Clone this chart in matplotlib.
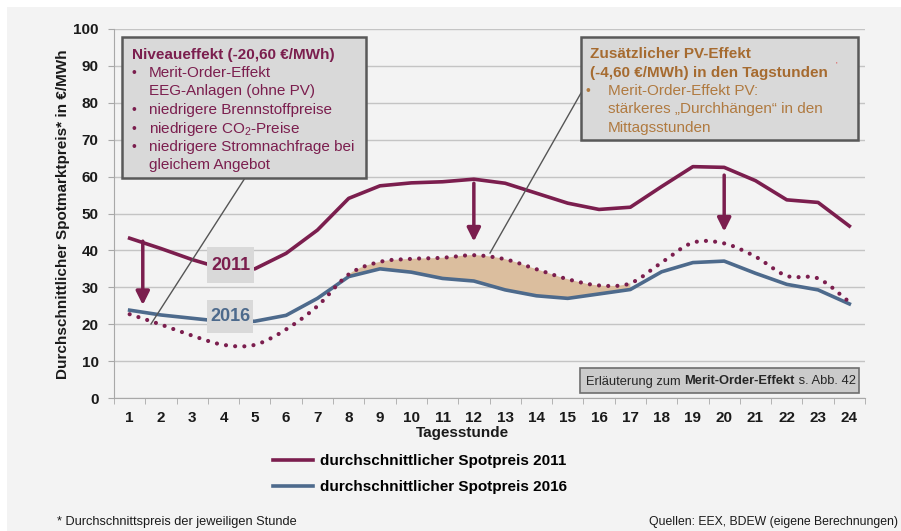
import numpy as np
import matplotlib
matplotlib.use("Agg")
from matplotlib import pyplot as plt
from matplotlib.path import Path
from matplotlib.patches import PathPatch, Rectangle
from matplotlib.lines import Line2D

plt.rcParams['font.family'] = ['Liberation Sans', 'DejaVu Sans']
plt.rcParams['mathtext.default'] = 'regular'

# stündliche Durchschnittspreise in €/MWh
hours = list(range(1, 25))
price_2011 = [43.3, 40.5, 37.5, 35.0, 35.0, 39.2, 45.5, 54.1, 57.5, 58.3, 58.6, 59.3,
              58.2, 55.5, 52.8, 51.1, 51.7, 57.3, 62.7, 62.5, 58.9, 53.7, 53.0, 46.6]
price_2016 = [23.8, 22.5, 21.6, 20.7, 20.8, 22.4, 27.0, 32.9, 35.0, 34.1, 32.4, 31.7,
              29.3, 27.7, 27.0, 28.2, 29.4, 34.2, 36.7, 37.1, 33.8, 30.8, 29.3, 25.5]
# 2011 abzgl. Niveaueffekt (gepunktete Linie)
price_2011_shifted = [22.7, 19.9, 16.9, 14.4, 14.4, 18.6, 24.9, 33.5, 36.9, 37.7, 38.0, 38.7,
                      37.6, 34.9, 32.2, 30.5, 31.1, 36.7, 42.1, 41.9, 38.3, 33.1, 32.4, 26.0]
pv_span = (8, 17)  # Stunden mit PV-Effekt (Fläche)

legend_labels = ['durchschnittlicher Spotpreis 2011', 'durchschnittlicher Spotpreis 2016']

# Pfeile: Stunde, Start, Spitze
arrow_x = [1.42, 12, 20]
arrow_top = [42.5, 58.2, 60.4]
arrow_tip = [25.2, 42.4, 45.1]

PURPLE = '#7B1E4E'
BLUE = '#4D6A8C'
BROWN = '#A66B30'
BROWN_LIGHT = '#B07A40'
TAN = '#DBBE9E'
GRID = '#C4C4C4'
FS = 11

W, H = 901, 531


def px(x, y):
    return x / W, 1 - y / H


def bezier_path(xs, ys, i0=0, i1=None):
    # Catmull-Rom Glättung wie in Excel, als Bezier-Segmente
    p = np.column_stack([xs, ys]).astype(float)
    n = len(p)
    if i1 is None:
        i1 = n - 1
    verts = [p[i0]]
    codes = [Path.MOVETO]
    for i in range(i0, i1):
        p0 = p[max(i - 1, 0)]
        p1 = p[i]
        p2 = p[i + 1]
        p3 = p[min(i + 2, n - 1)]
        verts += [p1 + (p2 - p0) / 6, p2 - (p3 - p1) / 6, p2]
        codes += [Path.CURVE4] * 3
    return verts, codes


fig = plt.figure(figsize=(W / 100, H / 100), dpi=100, facecolor='white')
fig.add_artist(Rectangle(px(7, 531), (W - 7) / W, (H - 7) / H, transform=fig.transFigure,
                         facecolor='#F3F3F3', edgecolor='none', zorder=-5))

x0, y0 = px(114, 398)
x1, y1 = px(865, 29)
ax = fig.add_axes([x0, y0, x1 - x0, y1 - y0])
ax.set_facecolor('none')

ax.set_xlim(0.5, 24.5)
ax.set_ylim(0, 100)
ax.set_yticks(range(0, 101, 10))
ax.set_xticks(hours)
ax.set_xticks(np.arange(0.5, 25, 1), minor=True)
ax.tick_params(axis='x', which='major', length=0, pad=9)
ax.tick_params(axis='x', which='minor', length=4, color='#A8A8A8', direction='out')
ax.tick_params(axis='y', length=4, color='#A8A8A8', pad=7)
for lab in ax.get_xticklabels() + ax.get_yticklabels():
    lab.set_fontweight('bold')
    lab.set_fontsize(FS)
    lab.set_color('#1A1A1A')
for s in ['top', 'right']:
    ax.spines[s].set_visible(False)
for s in ['left', 'bottom']:
    ax.spines[s].set_color('#A8A8A8')
ax.yaxis.grid(True, color=GRID, lw=1)
ax.set_axisbelow(True)

# Fläche PV-Effekt
a, b = pv_span[0] - 1, pv_span[1] - 1
v, c = bezier_path(hours, price_2011_shifted, a, b)
v += [(hours[i], price_2016[i]) for i in range(b, a - 1, -1)]
c += [Path.LINETO] * (b - a + 1)
v.append(v[0])
c.append(Path.CLOSEPOLY)
ax.add_patch(PathPatch(Path(v, c), facecolor=TAN, edgecolor='none', zorder=1))

l11, = ax.plot(hours, price_2011, color=PURPLE, lw=2.6, zorder=3, solid_joinstyle='round')
l16, = ax.plot(hours, price_2016, color=BLUE, lw=2.6, zorder=3, solid_joinstyle='round')

v, c = bezier_path(hours, price_2011_shifted)
dots = PathPatch(Path(v, c), fill=False, edgecolor=PURPLE, lw=3,
                 linestyle=(0, (0.01, 2.2)), zorder=4)
dots.set_capstyle('round')
ax.add_patch(dots)

for xa, ya, yb in zip(arrow_x, arrow_top, arrow_tip):
    ax.annotate('', xy=(xa, yb), xytext=(xa, ya),
                arrowprops=dict(arrowstyle='-|>', color=PURPLE, lw=2.5,
                                mutation_scale=20, shrinkA=0, shrinkB=0), zorder=5)

# Jahreslabels
for (bx, by, bw, bh), txt, col in [((207, 247, 47, 36), '2011', PURPLE),
                                   ((207, 300, 46, 33), '2016', BLUE)]:
    fig.add_artist(Rectangle(px(bx, by + bh), bw / W, bh / H, transform=fig.transFigure,
                             facecolor='#D9D9D9', edgecolor='none', zorder=2))
    fig.text(*px(bx + bw / 2, by + bh / 2), txt, ha='center', va='center',
             fontsize=13, fontweight='bold', color=col, zorder=3)

# Verbindungslinien
for (xa, ya), (xb, yb) in [((245, 178), (151, 324)), ((581, 93), (490, 253))]:
    fig.add_artist(Line2D([xa / W, xb / W], [1 - ya / H, 1 - yb / H], transform=fig.transFigure,
                          color='#555555', lw=1, zorder=2))

# Textbox Niveaueffekt
fig.add_artist(Rectangle(px(122, 178), 244 / W, 141 / H, transform=fig.transFigure,
                         facecolor='#D9D9D9', edgecolor='#595959', lw=1.8, zorder=3))
box1 = [(True, False, 'Niveaueffekt (-20,60 €/MWh)'),
        (False, True, 'Merit-Order-Effekt'),
        (False, False, 'EEG-Anlagen (ohne PV)'),
        (False, True, 'niedrigere Brennstoffpreise'),
        (False, True, 'niedrigere CO$_2$-Preise'),
        (False, True, 'niedrigere Stromnachfrage bei'),
        (False, False, 'gleichem Angebot')]
for i, (bold, bullet, txt) in enumerate(box1):
    yb = 58.5 + i * 18.5
    if bold:
        fig.text(*px(131.5, yb), txt, fontsize=FS, fontweight='bold', color=PURPLE,
                 va='baseline', zorder=4)
    else:
        if bullet:
            fig.text(*px(132, yb), '•', fontsize=10, color=PURPLE, va='baseline', zorder=4)
        fig.text(*px(149, yb), txt, fontsize=FS, color=PURPLE, va='baseline', zorder=4)

# Textbox PV-Effekt
fig.add_artist(Rectangle(px(581, 140), 277 / W, 103 / H, transform=fig.transFigure,
                         facecolor='#D9D9D9', edgecolor='#595959', lw=1.8, zorder=3))
box2 = [(True, False, 'Zusätzlicher PV-Effekt'),
        (True, False, '(-4,60 €/MWh) in den Tagstunden'),
        (False, True, 'Merit-Order-Effekt PV:'),
        (False, False, 'stärkeres „Durchhängen“ in den'),
        (False, False, 'Mittagsstunden')]
for i, (bold, bullet, txt) in enumerate(box2):
    yb = 58.5 + i * 18.3
    if bold:
        fig.text(*px(590, yb), txt, fontsize=FS, fontweight='bold', color=BROWN,
                 va='baseline', zorder=4)
    else:
        if bullet:
            fig.text(*px(586, yb), '•', fontsize=10, color=BROWN_LIGHT, va='baseline', zorder=4)
        fig.text(*px(608, yb), txt, fontsize=FS, color=BROWN_LIGHT, va='baseline', zorder=4)
fig.text(*px(835, 66), "'", fontsize=6, color='#E03030', zorder=4)

# Hinweisbox Merit-Order
fig.add_artist(Rectangle(px(580, 393), 279 / W, 25 / H, transform=fig.transFigure,
                         facecolor='#CBCBCB', edgecolor='#6E6E6E', lw=1.2, zorder=3))
renderer = fig.canvas.get_renderer()
xc = 586
for txt, wgt in [('Erläuterung zum ', 'normal'), ('Merit-Order-Effekt', 'bold'),
                 (' s. Abb. 42', 'normal')]:
    t = fig.text(*px(xc, 384.5), txt, fontsize=9.3, fontweight=wgt, color='#262626',
                 va='baseline', zorder=4)
    xc = t.get_window_extent(renderer).x1

# Achsentitel
fig.text(*px(63, 214), 'Durchschnittlicher Spotmarktpreis* in €/MWh', rotation=90,
         ha='center', va='center', fontsize=FS, fontweight='bold', color='#1A1A1A')
fig.text(*px(462, 433), 'Tagesstunde', ha='center', va='center', fontsize=FS,
         fontweight='bold', color='#1A1A1A')

fig.legend([l11, l16], legend_labels, loc='upper left', bbox_to_anchor=px(273, 454),
           frameon=False, prop={'weight': 'bold', 'size': FS},
           handlelength=2.6, handletextpad=0.5, labelspacing=0.8,
           borderpad=0, borderaxespad=0)

fig.text(*px(57, 522), '* Durchschnittspreis der jeweiligen Stunde', fontsize=9.2,
         va='center', color='#1A1A1A')
fig.text(*px(898, 522), 'Quellen: EEX, BDEW (eigene Berechnungen)', fontsize=8.8,
         ha='right', va='center', color='#1A1A1A')

fig.savefig('out.png', dpi=100, facecolor=fig.get_facecolor())
